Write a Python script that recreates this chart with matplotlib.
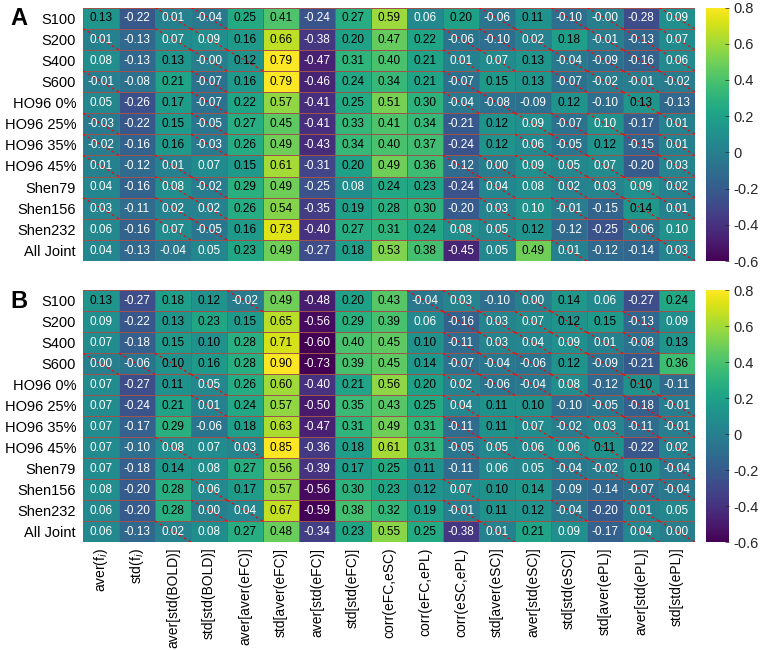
import numpy as np
import matplotlib
matplotlib.use('Agg')
import matplotlib.pyplot as plt

plt.rcParams['font.family'] = ['Liberation Sans', 'DejaVu Sans']
plt.rcParams['axes.unicode_minus'] = False

rows = ['S100', 'S200', 'S400', 'S600', 'HO96 0%', 'HO96 25%', 'HO96 35%',
        'HO96 45%', 'Shen79', 'Shen156', 'Shen232', 'All Joint']
cols = ['aver(f$_i$)', 'std(f$_i$)', 'aver[std(BOLD)]', 'std[std(BOLD)]',
        'aver[aver(eFC)]', 'std[aver(eFC)]', 'aver[std(eFC)]', 'std[std(eFC)]',
        'corr(eFC,eSC)', 'corr(eFC,ePL)', 'corr(eSC,ePL)', 'std[aver(eSC)]',
        'aver[std(eSC)]', 'std[std(eSC)]', 'std[aver(ePL)]', 'aver[std(ePL)]',
        'std[std(ePL)]']

vals_a = [
    [0.13, -0.22, 0.01, -0.04, 0.25, 0.41, -0.24, 0.27, 0.59, 0.06, 0.20, -0.06, 0.11, -0.10, -0.00, -0.28, 0.09],
    [0.01, -0.13, 0.07, 0.09, 0.16, 0.66, -0.38, 0.20, 0.47, 0.22, -0.06, -0.10, 0.02, 0.18, -0.01, -0.13, 0.07],
    [0.08, -0.13, 0.13, -0.00, 0.12, 0.79, -0.47, 0.31, 0.40, 0.21, 0.01, 0.07, 0.13, -0.04, -0.09, -0.16, 0.06],
    [-0.01, -0.08, 0.21, -0.07, 0.16, 0.79, -0.46, 0.24, 0.34, 0.21, -0.07, 0.15, 0.13, -0.07, -0.02, -0.01, -0.02],
    [0.05, -0.26, 0.17, -0.07, 0.22, 0.57, -0.41, 0.25, 0.51, 0.30, -0.04, -0.08, -0.09, 0.12, -0.10, 0.13, -0.13],
    [-0.03, -0.22, 0.15, -0.05, 0.27, 0.45, -0.41, 0.33, 0.41, 0.34, -0.21, 0.12, 0.09, -0.07, 0.10, -0.17, 0.01],
    [-0.02, -0.16, 0.16, -0.03, 0.26, 0.49, -0.43, 0.34, 0.40, 0.37, -0.24, 0.12, 0.06, -0.05, 0.12, -0.15, 0.01],
    [0.01, -0.12, 0.01, 0.07, 0.15, 0.61, -0.31, 0.20, 0.49, 0.36, -0.12, 0.00, 0.09, 0.05, 0.07, -0.20, 0.03],
    [0.04, -0.16, 0.08, -0.02, 0.29, 0.49, -0.25, 0.08, 0.24, 0.23, -0.24, 0.04, 0.08, 0.02, 0.03, 0.09, 0.02],
    [0.03, -0.11, 0.02, 0.02, 0.26, 0.54, -0.35, 0.19, 0.28, 0.30, -0.20, 0.03, 0.10, -0.01, -0.15, 0.14, 0.01],
    [0.06, -0.16, 0.07, -0.05, 0.16, 0.73, -0.40, 0.27, 0.31, 0.24, 0.08, 0.05, 0.12, -0.12, -0.25, -0.06, 0.10],
    [0.04, -0.13, -0.04, 0.05, 0.23, 0.49, -0.27, 0.18, 0.53, 0.38, -0.45, 0.05, 0.49, 0.01, -0.12, -0.14, 0.03],
]

vals_b = [
    [0.13, -0.27, 0.18, 0.12, -0.02, 0.49, -0.48, 0.20, 0.43, -0.04, 0.03, -0.10, 0.00, 0.14, 0.06, -0.27, 0.24],
    [0.09, -0.22, 0.13, 0.23, 0.15, 0.65, -0.56, 0.29, 0.39, 0.06, -0.16, 0.03, 0.07, 0.12, 0.15, -0.13, 0.09],
    [0.07, -0.18, 0.15, 0.10, 0.28, 0.71, -0.60, 0.40, 0.45, 0.10, -0.11, 0.03, 0.04, 0.09, 0.01, -0.08, 0.13],
    [0.00, -0.06, 0.10, 0.16, 0.28, 0.90, -0.73, 0.39, 0.45, 0.14, -0.07, -0.04, -0.06, 0.12, -0.09, -0.21, 0.36],
    [0.07, -0.27, 0.11, 0.05, 0.26, 0.60, -0.40, 0.21, 0.56, 0.20, 0.02, -0.06, -0.04, 0.08, -0.12, 0.10, -0.11],
    [0.07, -0.24, 0.21, 0.01, 0.24, 0.57, -0.50, 0.35, 0.43, 0.25, 0.04, 0.11, 0.10, -0.10, -0.05, -0.18, -0.01],
    [0.07, -0.17, 0.29, -0.06, 0.18, 0.63, -0.47, 0.31, 0.49, 0.31, -0.11, 0.11, 0.07, -0.02, 0.03, -0.11, -0.01],
    [0.07, -0.10, 0.08, 0.07, 0.03, 0.85, -0.36, 0.18, 0.61, 0.31, -0.05, 0.05, 0.06, 0.06, 0.11, -0.22, 0.02],
    [0.07, -0.18, 0.14, 0.08, 0.27, 0.56, -0.39, 0.17, 0.25, 0.11, -0.11, 0.06, 0.05, -0.04, -0.02, 0.10, -0.04],
    [0.08, -0.20, 0.28, 0.06, 0.17, 0.57, -0.56, 0.30, 0.23, 0.12, 0.07, 0.10, 0.14, -0.09, -0.14, -0.07, -0.04],
    [0.06, -0.20, 0.28, 0.00, 0.04, 0.67, -0.59, 0.38, 0.32, 0.19, -0.01, 0.11, 0.12, -0.04, -0.20, 0.01, 0.05],
    [0.06, -0.13, 0.02, 0.08, 0.27, 0.48, -0.34, 0.23, 0.55, 0.25, -0.38, 0.01, 0.21, 0.09, -0.17, 0.04, 0.00],
]

# non-significant cells (row -> column indices) get a red dashed diagonal
nonsig_a = {
    0: [2, 3, 11, 13, 14, 16],
    1: [0, 2, 3, 10, 11, 12, 14, 15, 16],
    2: [3, 4, 10, 11, 13, 14, 15, 16],
    3: [0, 3, 10, 13, 14, 15, 16],
    4: [3, 10, 11, 15],
    5: [0, 3, 12, 13, 14, 16],
    6: [0, 3, 12, 13, 15, 16],
    7: [0, 2, 10, 11, 12, 13, 14, 16],
    8: [2, 3, 11, 13, 14, 15, 16],
    9: [0, 2, 3, 11, 13, 15, 16],
    10: [2, 3, 10, 11, 15],
    11: [13, 16],
}
nonsig_b = {
    0: [4, 9, 10, 12],
    1: [10, 11, 12, 13, 15],
    2: [10, 11, 12, 13, 14, 15],
    3: [0, 1, 2, 10, 11, 12, 14],
    4: [3, 10, 11, 12, 13, 15],
    5: [3, 10, 14, 15, 16],
    6: [10, 12, 13, 14, 15, 16],
    7: [2, 4, 10, 11, 12, 13, 14, 16],
    8: [13, 14, 16],
    9: [3, 10, 15, 16],
    10: [3, 4, 10, 13, 15],
    11: [2, 11, 15, 16],
}

W, H = 760, 650
fig = plt.figure(figsize=(W / 100, H / 100), dpi=100)

def fx(px):
    return px / W

def fy(top, bottom):
    return 1 - bottom / H, (bottom - top) / H

cmap = plt.get_cmap('viridis')
vmin, vmax = -0.6, 0.8
cbar_ticks = [-0.6, -0.4, -0.2, 0, 0.2, 0.4, 0.6, 0.8]

def draw_panel(top, bottom, vals, nonsig, letter, thresh, show_x):
    data = np.array(vals)
    nr, nc = data.shape
    y0, h = fy(top, bottom)
    ax = fig.add_axes([fx(83), y0, fx(695) - fx(83), h])
    ax.pcolormesh(np.arange(nc + 1), np.arange(nr + 1), data, cmap=cmap,
                  vmin=vmin, vmax=vmax, edgecolors=(0.62, 0.32, 0.3),
                  linewidth=0.4)
    ax.set_xlim(0, nc)
    ax.set_ylim(nr, 0)
    for i in range(nr):
        for j in range(nc):
            v = data[i, j]
            c = 'black' if v > thresh else 'white'
            ax.text(j + 0.5, i + 0.52, '%.2f' % v, ha='center', va='center',
                    fontsize=8.5, color=c)
        for j in nonsig.get(i, []):
            ax.plot([j, j + 1], [i, i + 1], color='red', lw=0.8,
                    dashes=(2.5, 2.5))
    ax.set_yticks(np.arange(nr) + 0.5)
    ax.set_yticklabels(rows, fontsize=10.5)
    ax.tick_params(axis='y', length=0, pad=5)
    if show_x:
        ax.set_xticks(np.arange(nc) + 0.5)
        ax.set_xticklabels(cols, rotation=90, fontsize=10)
        ax.tick_params(axis='x', length=0, pad=4)
    else:
        ax.set_xticks([])
    for s in ax.spines.values():
        s.set_visible(False)
    fig.text(fx(10), 1 - (top + 11) / H, letter, fontsize=17,
             fontweight='bold', va='center', ha='left')

    cax = fig.add_axes([fx(706), y0, fx(729) - fx(706), h])
    sm = plt.cm.ScalarMappable(cmap=cmap, norm=plt.Normalize(vmin, vmax))
    cb = fig.colorbar(sm, cax=cax, ticks=cbar_ticks)
    cb.ax.set_yticklabels(['%g' % t for t in cbar_ticks])
    cb.ax.tick_params(labelsize=10.5, direction='in', length=3, width=0.5,
                      colors='#262626')
    cb.outline.set_visible(False)
    return ax

draw_panel(7.5, 261, vals_a, nonsig_a, 'A', 0.105, False)
draw_panel(290.5, 542, vals_b, nonsig_b, 'B', 0.095, True)

fig.savefig('out.png', dpi=100)
